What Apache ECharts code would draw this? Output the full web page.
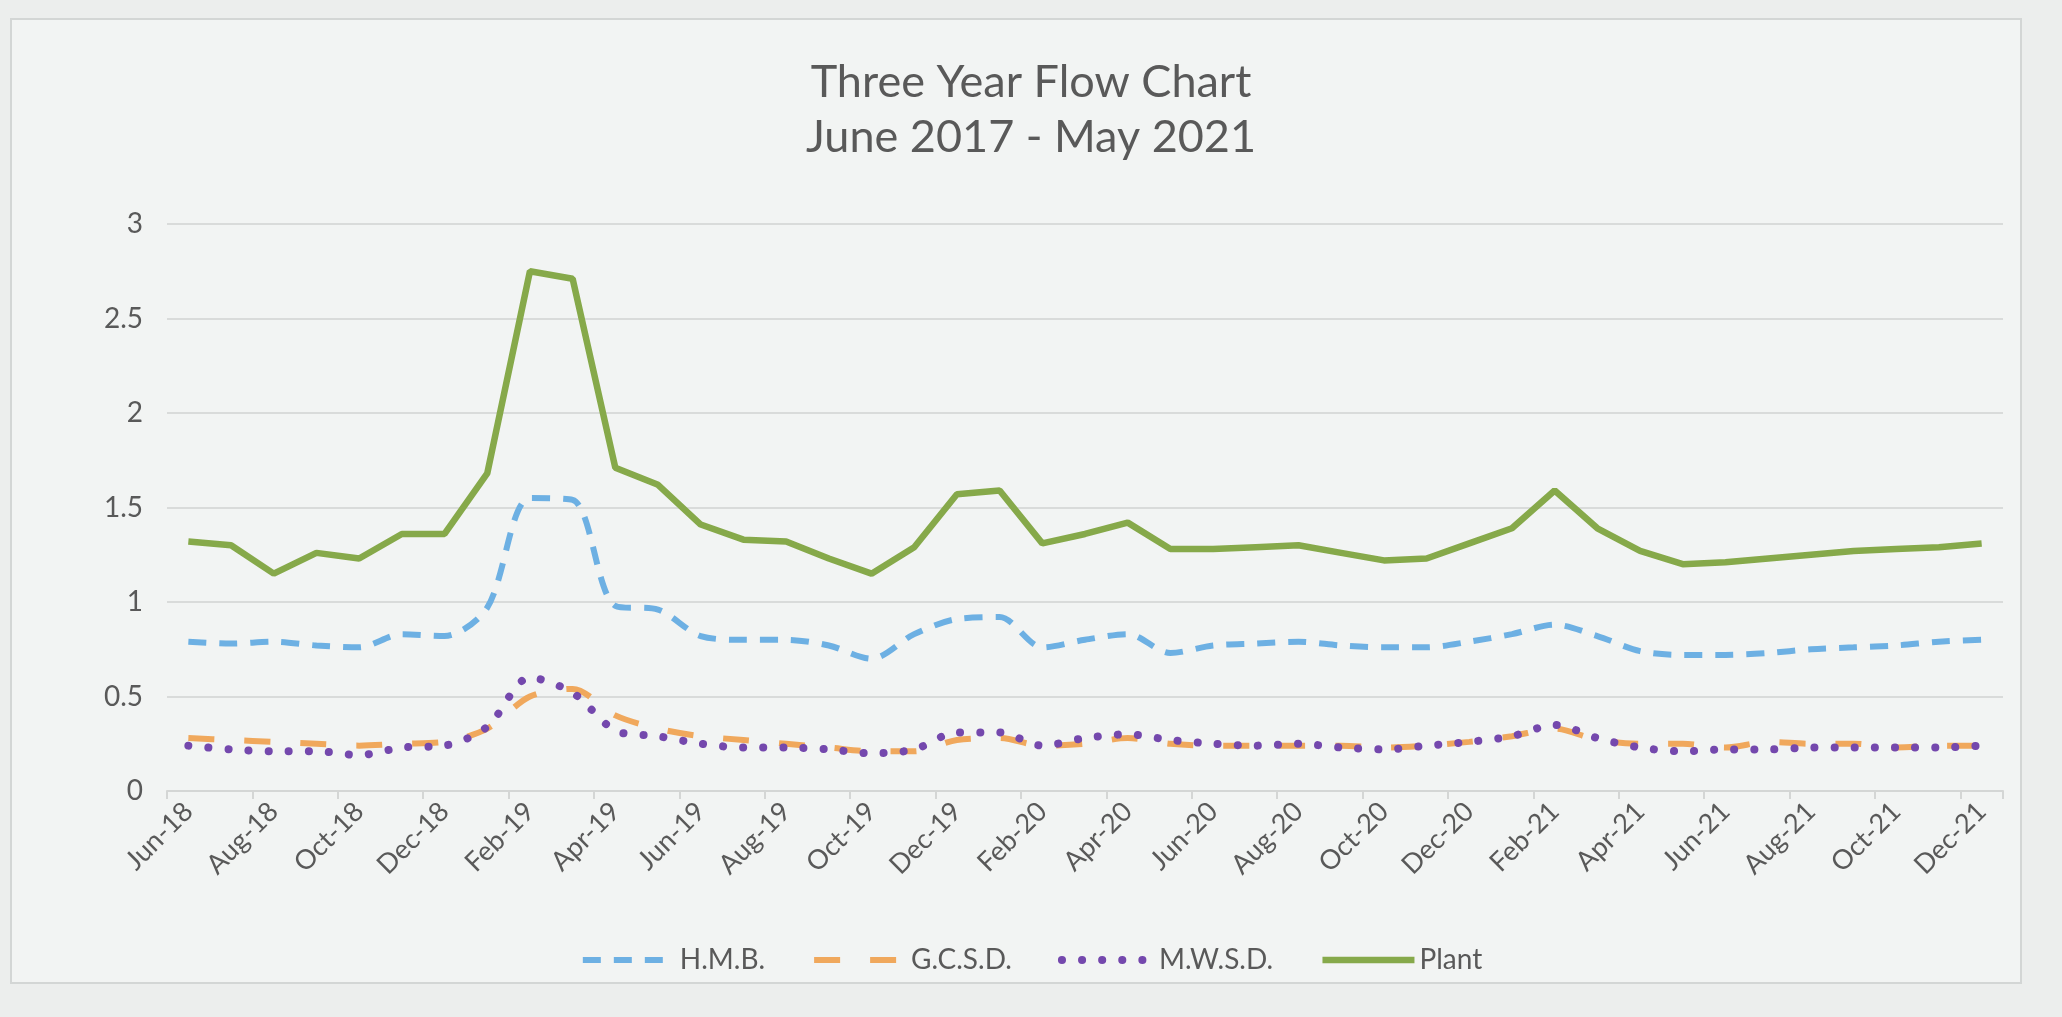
<!DOCTYPE html>
<html>
<head>
<meta charset="utf-8">
<title>Three Year Flow Chart</title>
<script src="https://cdn.jsdelivr.net/npm/echarts@6/dist/echarts.min.js"></script>
<style>
    html, body { margin: 0; padding: 0; background: #eceeed; }
    #frame {
        position: absolute; left: 10px; top: 18px; width: 2008px; height: 962px;
        background: #f2f4f3; border: 2px solid #d3d6d5;
    }
    #chart { position: absolute; left: 0; top: 0; width: 2062px; height: 1017px; }
</style>
</head>
<body>
<div id="frame"></div>
<div id="chart"></div>
<script>
// months on the category axis
const months = [
    'Jun-18', 'Jul-18', 'Aug-18', 'Sep-18', 'Oct-18', 'Nov-18', 'Dec-18',
    'Jan-19', 'Feb-19', 'Mar-19', 'Apr-19', 'May-19', 'Jun-19', 'Jul-19', 'Aug-19', 'Sep-19', 'Oct-19', 'Nov-19', 'Dec-19',
    'Jan-20', 'Feb-20', 'Mar-20', 'Apr-20', 'May-20', 'Jun-20', 'Jul-20', 'Aug-20', 'Sep-20', 'Oct-20', 'Nov-20', 'Dec-20',
    'Jan-21', 'Feb-21', 'Mar-21', 'Apr-21', 'May-21', 'Jun-21', 'Jul-21', 'Aug-21', 'Sep-21', 'Oct-21', 'Nov-21', 'Dec-21'
];

// flows
const hmb = [
    0.79, 0.78, 0.79, 0.77, 0.76, 0.83, 0.82, 0.97, 1.55, 1.54, 0.98, 0.96, 0.82, 0.80, 0.80, 0.77, 0.70,
    0.83, 0.91, 0.92, 0.76, 0.80, 0.83, 0.73, 0.77, 0.78, 0.79, 0.77, 0.76, 0.76, 0.79, 0.83, 0.88, 0.82,
    0.74, 0.72, 0.72, 0.73, 0.75, 0.76, 0.77, 0.79, 0.80
];
const gcsd = [
    0.28, 0.27, 0.26, 0.25, 0.24, 0.25, 0.26, 0.33, 0.50, 0.54, 0.40, 0.33, 0.29, 0.27, 0.25, 0.23, 0.21,
    0.21, 0.27, 0.28, 0.24, 0.25, 0.28, 0.25, 0.24, 0.24, 0.24, 0.24, 0.23, 0.24, 0.26, 0.29, 0.33, 0.27,
    0.25, 0.25, 0.23, 0.26, 0.25, 0.25, 0.23, 0.24, 0.24
];
const mwsd = [
    0.24, 0.22, 0.21, 0.21, 0.19, 0.23, 0.24, 0.34, 0.60, 0.52, 0.32, 0.29, 0.25, 0.23, 0.23, 0.22, 0.20,
    0.22, 0.31, 0.31, 0.24, 0.28, 0.30, 0.27, 0.25, 0.24, 0.25, 0.23, 0.22, 0.24, 0.26, 0.29, 0.35, 0.28,
    0.23, 0.21, 0.22, 0.22, 0.23, 0.23, 0.23, 0.23, 0.24
];
const plant = [
    1.32, 1.30, 1.15, 1.26, 1.23, 1.36, 1.36, 1.68, 2.75, 2.71, 1.71, 1.62, 1.41, 1.33, 1.32, 1.23, 1.15,
    1.29, 1.57, 1.59, 1.31, 1.36, 1.42, 1.28, 1.28, 1.29, 1.30, 1.26, 1.22, 1.23, 1.31, 1.39, 1.59, 1.39,
    1.27, 1.20, 1.21, 1.23, 1.25, 1.27, 1.28, 1.29, 1.31
];

const font = 'Lato, "Open Sans", sans-serif';
const grey = '#595959';

const chart = echarts.init(document.getElementById('chart'), null, { renderer: 'canvas' });

const option = {
    backgroundColor: 'transparent',
    title: {
        text: 'Three Year Flow Chart\nJune 2017 - May 2021',
        left: 'center',
        top: 50,
        textStyle: {
            fontFamily: font,
            fontSize: 45,
            fontWeight: 'normal',
            lineHeight: 55,
            color: grey
        }
    },
    legend: {
        data: ['H.M.B.', 'G.C.S.D.', 'M.W.S.D.', 'Plant'],
        left: 'center',
        top: 941,
        itemWidth: 92,
        itemHeight: 14,
        itemGap: 46,
        itemStyle: { opacity: 0 },
        lineStyle: { width: 'inherit' },
        textStyle: { fontFamily: font, fontSize: 28, color: grey }
    },
    grid: {
        left: 167,
        right: 59,
        top: 224,
        bottom: 226
    },
    xAxis: {
        type: 'category',
        data: months,
        boundaryGap: true,
        axisLine: { lineStyle: { color: '#d4d6d5', width: 2 } },
        axisTick: { show: true, interval: 1, length: 8, lineStyle: { color: '#d4d6d5', width: 2 } },
        axisLabel: {
            interval: 1,
            rotate: 45,
            margin: 16,
            fontFamily: font,
            fontSize: 27,
            color: grey
        }
    },
    yAxis: {
        type: 'value',
        min: 0,
        max: 3,
        interval: 0.5,
        axisLine: { show: false },
        axisTick: { show: false },
        axisLabel: { margin: 24, fontFamily: font, fontSize: 28, color: grey },
        splitLine: { lineStyle: { color: '#d9dbda', width: 2 } }
    },
    series: [
        {
            name: 'H.M.B.',
            type: 'line',
            data: hmb,
            symbol: 'none',
            smooth: 0.3,
            lineStyle: { color: '#6db0e3', width: 6, type: [18, 13] },
            itemStyle: { color: '#6db0e3' }
        },
        {
            name: 'G.C.S.D.',
            type: 'line',
            data: gcsd,
            symbol: 'none',
            smooth: 0.3,
            lineStyle: { color: '#f0a85c', width: 6, type: [26, 30] },
            itemStyle: { color: '#f0a85c' }
        },
        {
            name: 'M.W.S.D.',
            type: 'line',
            data: mwsd,
            symbol: 'none',
            smooth: 0.3,
            lineStyle: { color: '#7448ad', width: 8, type: [0.1, 20], cap: 'round' },
            itemStyle: { color: '#7448ad' }
        },
        {
            name: 'Plant',
            type: 'line',
            data: plant,
            symbol: 'none',
            lineStyle: { color: '#86a94a', width: 6.5 },
            itemStyle: { color: '#86a94a' }
        }
    ],
    animation: false
};

chart.setOption(option);
window.addEventListener('resize', () => chart.resize());
</script>
</body>
</html>
